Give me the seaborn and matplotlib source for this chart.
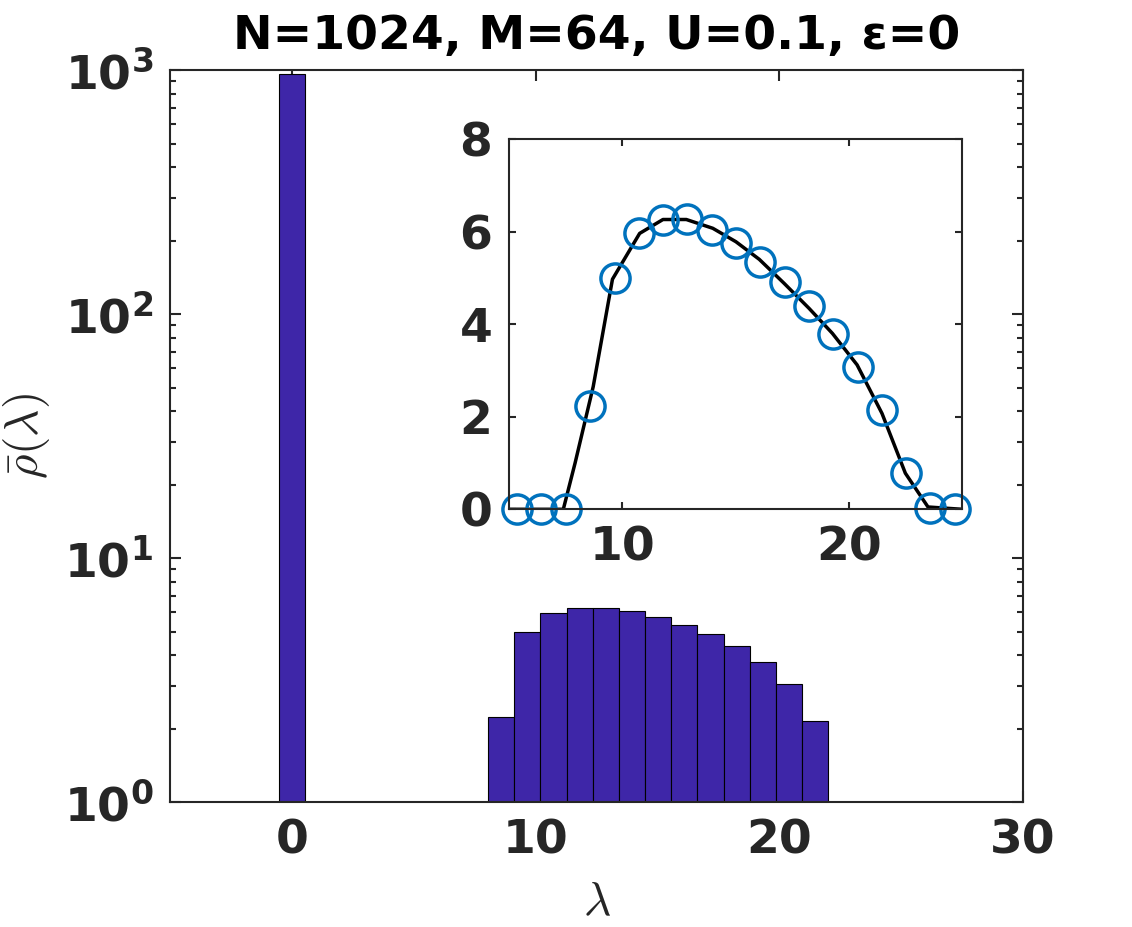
import matplotlib
matplotlib.use("Agg")
import matplotlib.pyplot as plt
from matplotlib.ticker import LogLocator, NullFormatter
import seaborn as sns

# histogram of eigenvalues (bin centres and heights)
lam_main = [0.0, 8.59, 9.66, 10.73, 11.81, 12.88, 13.95, 15.03, 16.10, 17.17, 18.25, 19.32, 20.39, 21.47]
rho_main = [960, 2.24, 5.00, 5.98, 6.27, 6.27, 6.04, 5.75, 5.34, 4.90, 4.38, 3.76, 3.06, 2.14]
bin_width = 1.0733

# inset: same bins on a linear scale (circles) and the smooth curve (black line)
lam_in = [5.36, 6.43, 7.51, 8.59, 9.66, 10.73, 11.81, 12.88, 13.95, 15.03,
          16.10, 17.17, 18.25, 19.32, 20.39, 21.47, 22.54, 23.61, 24.69]
rho_in = [0, 0, 0, 2.23, 4.99, 5.96, 6.25, 6.27, 6.03, 5.75,
          5.35, 4.92, 4.39, 3.78, 3.07, 2.14, 0.78, 0.02, 0]
lam_fit = [5.0, 7.4, 7.92, 8.72, 9.57, 10.77, 11.80, 12.83, 14.00, 15.02,
           16.05, 17.15, 18.25, 19.28, 20.37, 21.47, 22.50, 23.50, 25.0]
rho_fit = [0, 0, 1.00, 2.65, 4.97, 5.96, 6.26, 6.26, 6.07, 5.78,
           5.40, 4.88, 4.34, 3.80, 3.12, 2.07, 0.78, 0.05, 0]

main_xticks = [0, 10, 20, 30]
main_yticks = [1, 10, 100, 1000]
main_ylabels = [r'$\mathbf{10^{0}}$', r'$\mathbf{10^{1}}$', r'$\mathbf{10^{2}}$', r'$\mathbf{10^{3}}$']
inset_xticks = [10, 20]
inset_yticks = [0, 2, 4, 6, 8]

title = 'N=1024, M=64, U=0.1, ε=0'

sns.set_style('ticks')
plt.rcParams['font.family'] = ['DejaVu Sans']
plt.rcParams['mathtext.fontset'] = 'dejavusans'
plt.rcParams['mathtext.sf'] = 'DejaVu Sans'

dark = '#262626'
bar_col = '#3E26A8'
ring_col = '#0072BD'
fs = 34

fig = plt.figure(figsize=(11.32, 9.27), dpi=100)
ax = fig.add_axes([0.1502, 0.1348, 0.7535, 0.7896])

sns.histplot(x=lam_main, weights=rho_main, binwidth=bin_width,
             binrange=(-bin_width / 2, lam_main[-1] + bin_width / 2),
             color=bar_col, alpha=1, edgecolor='black', linewidth=0.8, ax=ax)
ax.set_yscale('log')
ax.set_xlim(-5, 30)
ax.set_ylim(1, 1000)
ax.set_xticks(main_xticks)
ax.set_yticks(main_yticks, main_ylabels)
ax.yaxis.set_minor_locator(LogLocator(base=10, subs=range(2, 10)))
ax.yaxis.set_minor_formatter(NullFormatter())
ax.tick_params(which='both', direction='in', top=True, right=True, color=dark,
               width=1.5, labelsize=fs, labelcolor=dark)
ax.tick_params(which='major', length=8, pad=12)
ax.tick_params(which='minor', length=4)
for lab in ax.get_xticklabels():
    lab.set_fontweight('bold')
for sp in ax.spines.values():
    sp.set_color(dark)
    sp.set_linewidth(1.5)

ax.set_xlabel(r'$\lambda$', fontsize=fs, color=dark, math_fontfamily='cm', labelpad=12)
ax.set_ylabel(r'$\bar{\rho}(\lambda)$', fontsize=fs, color=dark, math_fontfamily='cm')
ax.yaxis.set_label_coords(-0.138, 0.5)
ax.set_title(title, fontsize=fs, fontweight='bold', color='black', pad=15)

# inset
axi = fig.add_axes([0.4496, 0.4506, 0.4002, 0.3995])
sns.lineplot(x=lam_fit, y=rho_fit, color='black', linewidth=2.5, ax=axi)
sns.lineplot(x=lam_in, y=rho_in, linestyle='none', marker='o', markersize=21,
             markerfacecolor='none', markeredgecolor=ring_col, markeredgewidth=2.5,
             clip_on=False, ax=axi)
axi.set_xlim(5, 25)
axi.set_ylim(0, 8)
axi.set_xticks(inset_xticks)
axi.set_yticks(inset_yticks)
axi.tick_params(direction='in', top=True, right=True, color=dark, width=1.5,
                length=5, labelsize=fs, labelcolor=dark, pad=12)
for lab in axi.get_xticklabels() + axi.get_yticklabels():
    lab.set_fontweight('bold')
for sp in axi.spines.values():
    sp.set_color(dark)
    sp.set_linewidth(1.5)

fig.savefig('out.png', dpi=100)
